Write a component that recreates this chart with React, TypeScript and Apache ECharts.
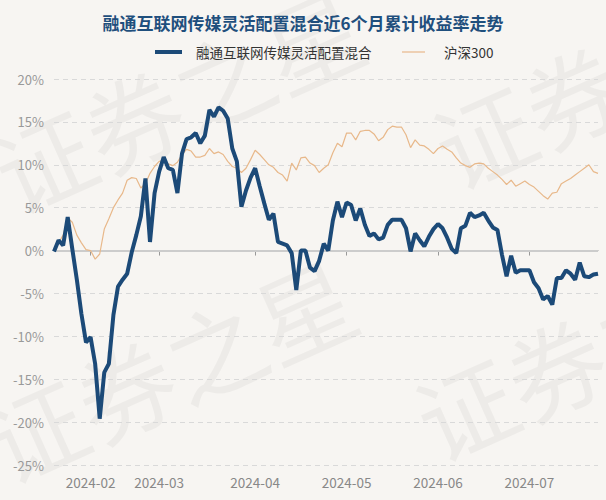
import React, { useEffect, useRef } from "react";
import * as echarts from "echarts";

// Trading days per month (data dates)
const janDays = [22, 23, 24, 25, 26, 29, 30, 31];
const febDays = [1, 2, 5, 6, 7, 8, 19, 20, 21, 22, 23, 26, 27, 28, 29];
const marDays = [1, 4, 5, 6, 7, 8, 11, 12, 13, 14, 15, 18, 19, 20, 21, 22, 25, 26, 27, 28, 29];
const aprDays = [1, 2, 3, 8, 9, 10, 11, 12, 15, 16, 17, 18, 19, 22, 23, 24, 25, 26, 29, 30];
const mayDays = [6, 7, 8, 9, 10, 13, 14, 15, 16, 17, 20, 21, 22, 23, 24, 27, 28, 29, 30, 31];
const junDays = [3, 4, 5, 6, 7, 11, 12, 13, 14, 17, 18, 19, 20, 21, 24, 25, 26, 27, 28, 30];
const julDays = [1, 2, 3, 4, 5, 8, 9, 10, 11, 12, 15, 16, 17, 18, 19, 22];

const pad = (n: number) => (n < 10 ? "0" + n : "" + n);
const dates: string[] = [
  ...janDays.map((d) => `2024-01-${pad(d)}`),
  ...febDays.map((d) => `2024-02-${pad(d)}`),
  ...marDays.map((d) => `2024-03-${pad(d)}`),
  ...aprDays.map((d) => `2024-04-${pad(d)}`),
  ...mayDays.map((d) => `2024-05-${pad(d)}`),
  ...junDays.map((d) => `2024-06-${pad(d)}`),
  ...julDays.map((d) => `2024-07-${pad(d)}`),
];

const titleText = "融通互联网传媒灵活配置混合近6个月累计收益率走势";
const fundName = "融通互联网传媒灵活配置混合";
const indexName = "沪深300";

// cumulative return, %
const fundReturns = [
  -0.1, 1.2, 0.6, 3.9, 0.2, -3.4, -7.4, -10.7, -10.1, -13.2,
  -19.6, -14.2, -13.2, -7.5, -4.2, -3.4, -2.7, -0.2, 1.8, 4.0,
  8.4, 1.0, 6.7, 9.2, 10.9, 9.6, 9.4, 6.7, 11.3, 13.0,
  13.2, 13.7, 12.5, 13.4, 16.4, 15.6, 16.7, 16.3, 15.4, 11.9,
  10.4, 5.1, 7.0, 8.5, 9.6, 7.5, 5.5, 3.6, 4.3, 1.0,
  0.8, 0.6, -0.3, -4.6, 0.0, 0.0, -2.0, -2.4, -1.2, 0.8,
  0.0, 3.5, 5.7, 3.9, 5.6, 5.3, 3.5, 4.9, 3.0, 1.7,
  2.0, 1.3, 1.5, 3.0, 3.6, 3.6, 3.6, 2.6, -0.1, 2.0,
  1.2, 0.5, 1.6, 2.5, 3.1, 2.6, 1.5, 0.2, -0.3, 2.6,
  2.9, 4.4, 3.9, 4.1, 4.4, 3.5, 2.7, 2.4, -0.5, -3.0,
  -0.6, -2.6, -2.3, -2.3, -2.3, -3.7, -4.4, -5.7, -5.3, -6.3,
  -3.2, -3.2, -2.3, -2.7, -3.4, -1.4, -3.0, -3.1, -2.8, -2.7,
];

const indexReturns = [
  0.0, 0.9, 1.8, 3.8, 3.3, 1.8, 0.9, 0.1, 0.0, -1.0,
  -0.4, 2.5, 3.7, 5.0, 5.9, 6.7, 8.2, 8.5, 8.4, 7.3,
  7.8, 9.0, 9.8, 10.4, 10.5, 10.1, 9.9, 10.3, 11.2, 11.8,
  11.6, 10.9, 10.9, 11.1, 11.9, 11.3, 11.5, 11.2, 10.4, 9.8,
  9.6, 9.1, 9.6, 10.6, 11.7, 11.2, 10.6, 10.0, 9.7, 9.1,
  8.8, 8.1, 10.2, 9.4, 10.8, 10.9, 10.2, 9.9, 9.1, 9.6,
  10.0, 11.4, 12.5, 12.1, 13.7, 13.7, 12.9, 13.9, 14.0, 14.0,
  13.6, 12.8, 13.2, 14.1, 14.5, 14.4, 14.4, 13.5, 12.0, 12.9,
  12.3, 12.2, 11.8, 11.3, 11.9, 12.2, 11.8, 11.5, 10.8, 10.2,
  9.9, 9.7, 10.1, 10.2, 10.1, 9.6, 9.2, 8.8, 8.3, 7.7,
  8.2, 7.5, 7.8, 8.1, 7.7, 7.4, 6.9, 6.4, 6.0, 6.7,
  6.8, 7.8, 8.1, 8.4, 8.8, 9.2, 9.6, 10.0, 9.2, 9.0,
];

const yMin = -25;
const yMax = 20;
const yStep = 5;

const watermarkText = "证券之星";

const FONT = "'Noto Sans CJK SC', 'Noto Sans', sans-serif";
const FUND_COLOR = "#1c4a78";
const INDEX_COLOR = "#e8b88a";

const isMonthStart = (index: number) =>
  index > 0 && dates[index].slice(0, 7) !== dates[index - 1].slice(0, 7);

export default function App() {
  const ref = useRef<HTMLDivElement>(null);

  useEffect(() => {
    if (!ref.current) return;
    const chart = echarts.init(ref.current, null, { renderer: "svg" });
    const wm = (x: number, y: number) => ({
      type: "text",
      x,
      y,
      rotation: 0.42,
      silent: true,
      z: -10,
      style: {
        text: watermarkText,
        fontSize: 98,
        fontFamily: FONT,
        fill: "rgba(0,0,0,0.04)",
        verticalAlign: "bottom",
      },
    });
    chart.setOption({
      animation: false,
      backgroundColor: "#f7f5f2",
      title: {
        text: titleText,
        left: "center",
        top: 9,
        textStyle: {
          fontSize: 17,
          fontWeight: "bold",
          color: "#1f4f7d",
          fontFamily: FONT,
        },
      },
      graphic: [
        wm(18, 222),
        wm(458, 198),
        wm(10, 492),
        wm(440, 470),
        {
          type: "line",
          shape: { x1: 155, y1: 52, x2: 182, y2: 52 },
          style: { stroke: FUND_COLOR, lineWidth: 4 },
        },
        {
          type: "text",
          x: 196,
          y: 52,
          style: {
            text: fundName,
            fontSize: 13.5,
            fontFamily: FONT,
            fill: "#333",
            verticalAlign: "middle",
          },
        },
        {
          type: "line",
          shape: { x1: 402, y1: 52, x2: 425, y2: 52 },
          style: { stroke: INDEX_COLOR, lineWidth: 1.2 },
        },
        {
          type: "text",
          x: 444,
          y: 52,
          style: {
            text: indexName,
            fontSize: 13.5,
            fontFamily: FONT,
            fill: "#333",
            verticalAlign: "middle",
          },
        },
      ],
      grid: {
        left: 54,
        right: 8,
        top: 79,
        bottom: 35,
        containLabel: false,
        outerBoundsMode: "none",
      },
      xAxis: {
        type: "category",
        data: dates,
        boundaryGap: false,
        axisLine: { show: true, lineStyle: { color: "#999", width: 1 } },
        axisTick: {
          show: true,
          length: 5,
          interval: (index: number) => isMonthStart(index),
          lineStyle: { color: "#999" },
        },
        axisLabel: {
          interval: (index: number) => isMonthStart(index),
          formatter: (v: string) => v.slice(0, 7),
          fontSize: 13.5,
          color: "#888",
          fontFamily: FONT,
          margin: 10,
        },
        splitLine: { show: false },
      },
      yAxis: {
        type: "value",
        min: yMin,
        max: yMax,
        interval: yStep,
        axisLine: { show: false },
        axisTick: { show: false },
        axisLabel: {
          formatter: (v: number) => `${v}%`,
          fontSize: 13,
          color: "#999",
          fontFamily: FONT,
          margin: 10,
        },
        splitLine: {
          show: true,
          lineStyle: { color: "#d9d9d9", type: [5, 4], width: 1 },
        },
      },
      series: [
        {
          name: indexName,
          type: "line",
          data: indexReturns,
          showSymbol: false,
          symbol: "none",
          z: 2,
          lineStyle: { color: INDEX_COLOR, width: 1.2 },
          itemStyle: { color: INDEX_COLOR },
          markLine: {
            silent: true,
            symbol: "none",
            z: 1,
            label: { show: false },
            lineStyle: { type: "solid", color: "#cccccc", width: 2 },
            data: [{ yAxis: 0 }],
          },
        },
        {
          name: fundName,
          type: "line",
          data: fundReturns,
          showSymbol: false,
          symbol: "none",
          z: 3,
          lineStyle: { color: FUND_COLOR, width: 4 },
          itemStyle: { color: FUND_COLOR },
        },
      ],
    });
    return () => chart.dispose();
  }, []);

  return (
    <div
      ref={ref}
      style={{ position: "absolute", left: 0, top: 0, width: 606, height: 500 }}
    />
  );
}
